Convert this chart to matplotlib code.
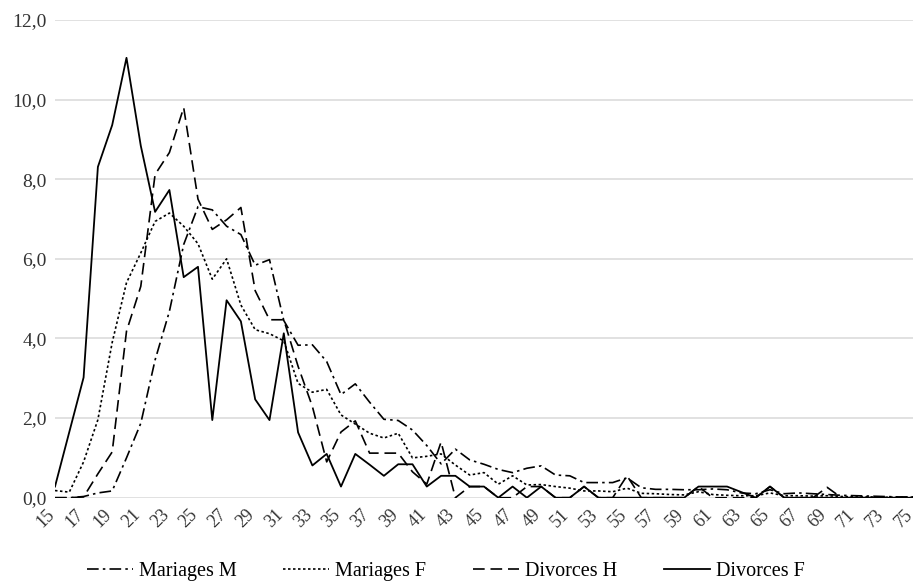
import matplotlib
matplotlib.use("Agg")
import matplotlib.pyplot as plt
import matplotlib.transforms as mtransforms
from matplotlib.ticker import FuncFormatter

plt.rcParams['font.family'] = ['Liberation Serif', 'DejaVu Serif']

# ages 15..75
ages = list(range(15, 76))

mariages_m = [0.0, 0.0, 0.03, 0.12, 0.17, 1.0, 1.87, 3.46, 4.68, 6.36,
              7.31, 7.23, 6.82, 6.61, 5.84, 5.98, 4.45, 3.83, 3.84, 3.42,
              2.59, 2.86, 2.40, 1.97, 1.94, 1.70, 1.31, 0.85, 1.22, 0.95,
              0.84, 0.71, 0.63, 0.74, 0.80, 0.57, 0.55, 0.38, 0.38, 0.38,
              0.50, 0.25, 0.21, 0.21, 0.20, 0.20, 0.22, 0.20, 0.12, 0.10,
              0.20, 0.10, 0.12, 0.10, 0.08, 0.06, 0.05, 0.04, 0.03, 0.02,
              0.02]

mariages_f = [0.18, 0.14, 0.90, 1.96, 3.90, 5.40, 6.15, 6.94, 7.15, 6.82,
              6.38, 5.49, 6.00, 4.84, 4.22, 4.12, 3.94, 2.87, 2.65, 2.72,
              2.08, 1.85, 1.62, 1.50, 1.62, 1.00, 1.04, 1.10, 0.82, 0.57,
              0.63, 0.34, 0.55, 0.32, 0.33, 0.28, 0.24, 0.17, 0.17, 0.15,
              0.24, 0.11, 0.10, 0.08, 0.07, 0.15, 0.08, 0.06, 0.05, 0.05,
              0.12, 0.05, 0.05, 0.04, 0.05, 0.03, 0.02, 0.02, 0.01, 0.01,
              0.01]

divorces_h = [0.0, 0.0, 0.02, 0.60, 1.15, 4.18, 5.31, 8.12, 8.67, 9.80,
              7.50, 6.74, 6.98, 7.29, 5.20, 4.47, 4.47, 3.30, 2.29, 0.90,
              1.65, 1.93, 1.12, 1.12, 1.12, 0.65, 0.34, 1.40, 0.0, 0.28,
              0.28, 0.0, 0.0, 0.28, 0.28, 0.0, 0.0, 0.28, 0.0, 0.0,
              0.55, 0.0, 0.0, 0.0, 0.0, 0.28, 0.0, 0.0, 0.0, 0.0,
              0.28, 0.0, 0.0, 0.0, 0.26, 0.0, 0.0, 0.0, 0.0, 0.0,
              0.0]

divorces_f = [0.28, 1.65, 3.02, 8.31, 9.36, 11.05, 8.84, 7.18, 7.73, 5.54,
              5.80, 1.95, 4.96, 4.43, 2.47, 1.95, 4.13, 1.64, 0.81, 1.10,
              0.28, 1.10, 0.83, 0.55, 0.84, 0.84, 0.28, 0.55, 0.55, 0.28,
              0.28, 0.0, 0.28, 0.0, 0.28, 0.0, 0.0, 0.28, 0.0, 0.0,
              0.0, 0.0, 0.0, 0.0, 0.0, 0.28, 0.28, 0.28, 0.14, 0.0,
              0.28, 0.0, 0.0, 0.0, 0.0, 0.0, 0.0, 0.0, 0.0, 0.0,
              0.0]

labels = ['Mariages M', 'Mariages F', 'Divorces H', 'Divorces F']

fig = plt.figure(figsize=(9.15, 5.83), dpi=100)
ax = fig.add_axes([0.0601, 0.1463, 0.9377, 0.8194])

ax.plot(ages, mariages_m, color='black', lw=1.2, dashes=(7, 2.5, 1.5, 2.5), label=labels[0])
ax.plot(ages, mariages_f, color='black', lw=1.2, dashes=(1.5, 1.5), label=labels[1])
ax.plot(ages, divorces_h, color='black', lw=1.2, dashes=(7, 3.5), label=labels[2])
ax.plot(ages, divorces_f, color='black', lw=1.3, label=labels[3])

ax.set_xlim(15, 75)
ax.set_ylim(0, 12)
ax.set_yticks([0, 2, 4, 6, 8, 10, 12])
ax.yaxis.set_major_formatter(FuncFormatter(lambda v, p: f"{v:.1f}".replace('.', ',')))
ax.set_xticks(ages[::2])
ax.set_xticklabels([str(a) for a in ages[::2]], rotation=45, ha='right',
                   rotation_mode='anchor', fontsize=13, color='#333333')
ax.tick_params(axis='y', labelsize=14, colors='#333333', length=0, pad=6)
ax.tick_params(axis='x', length=0, pad=6)

# nudge rotated x labels to the left like the original
shift = mtransforms.ScaledTranslation(-9 / 100, 0, fig.dpi_scale_trans)
for lbl in ax.get_xticklabels():
    lbl.set_transform(lbl.get_transform() + shift)

ax.grid(axis='y', color='#d9d9d9', lw=1.1)
ax.set_axisbelow(True)
for s in ax.spines.values():
    s.set_visible(False)

fig.legend(loc='lower center', bbox_to_anchor=(0.487, -0.028), ncol=4, frameon=False,
           fontsize=14.5, handlelength=2.3, columnspacing=2.3, handletextpad=0.3)

fig.savefig('out.png', dpi=100)
